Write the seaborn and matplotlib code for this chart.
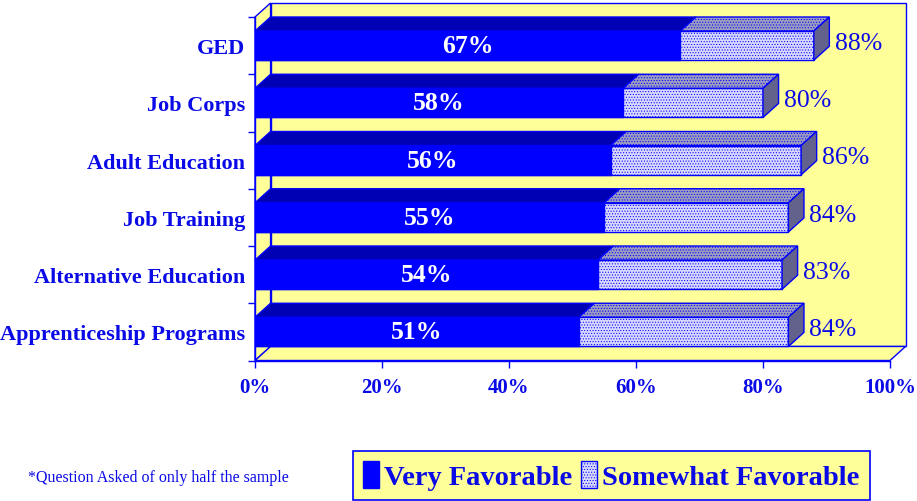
import numpy as np
import pandas as pd
import matplotlib
matplotlib.use("Agg")
import matplotlib.pyplot as plt
from matplotlib.patches import Polygon, Rectangle
import seaborn as sns

categories = ["GED", "Job Corps", "Adult Education", "Job Training",
              "Alternative Education", "Apprenticeship Programs"]
very_favorable = [67, 58, 56, 55, 54, 51]
total_favorable = [88, 80, 86, 84, 83, 84]
x_ticks = [0, 20, 40, 60, 80, 100]
x_tick_labels = ["0%", "20%", "40%", "60%", "80%", "100%"]
series_names = ["Very Favorable", "Somewhat Favorable"]
footnote = "*Question Asked of only half the sample"

sns.set_theme(style="white")
plt.rcParams["font.family"] = ["Liberation Serif", "DejaVu Serif"]
plt.rcParams["hatch.linewidth"] = 0.45

BLUE = "#0000FF"
TEXT_BLUE = "#0A0AE6"
WALL = "#FFFF99"
VF_TOP = "#0000B4"
SF_FACE = "#D8D8FF"
SF_TOP = "#9C9CC0"
SF_SIDE = "#62628C"

df = pd.DataFrame({"category": categories,
                   "very": very_favorable,
                   "total": total_favorable})

fig = plt.figure(figsize=(9.17, 5.02), dpi=100)
ax = fig.add_axes([255 / 917, (502 - 361.5) / 502, 635 / 917, 343.5 / 502])
ax.set_facecolor("none")

BAR_H = 0.51
DX, DY = 2.45, 0.245  # depth of the 3-D box in data units
n = len(categories)
y_lo, y_hi = -0.5, n - 0.5

# back wall, side wall and floor
wall_kw = dict(facecolor=WALL, edgecolor=BLUE, linewidth=1, clip_on=False, zorder=0.5)
ax.add_patch(Polygon([(DX, y_lo - DY), (100 + DX, y_lo - DY),
                      (100 + DX, y_hi - DY), (DX, y_hi - DY)], **wall_kw))
ax.add_patch(Polygon([(0, y_lo), (DX, y_lo - DY), (DX, y_hi - DY), (0, y_hi)], **wall_kw))
ax.add_patch(Polygon([(0, y_hi), (DX, y_hi - DY), (100 + DX, y_hi - DY), (100, y_hi)], **wall_kw))

# front faces of the stacked bars
sns.barplot(data=df, x="total", y="category", orient="h", color=SF_FACE,
            saturation=1, width=BAR_H, edgecolor=BLUE, linewidth=1,
            hatch="......", ax=ax, zorder=3)
sns.barplot(data=df, x="very", y="category", orient="h", color=BLUE,
            saturation=1, width=BAR_H, edgecolor=BLUE, linewidth=1,
            ax=ax, zorder=3)

ax.set_xlim(0, 100)
ax.set_ylim(y_hi, y_lo)

# top and end faces giving the bars depth
face_kw = dict(edgecolor=BLUE, linewidth=1, clip_on=False, zorder=3)
for i, (v, t) in enumerate(zip(very_favorable, total_favorable)):
    yt = i - BAR_H / 2
    ax.add_patch(Polygon([(0, yt), (DX, yt - DY), (v + DX, yt - DY), (v, yt)],
                         facecolor=VF_TOP, **face_kw))
    ax.add_patch(Polygon([(v, yt), (v + DX, yt - DY), (t + DX, yt - DY), (t, yt)],
                         facecolor=SF_TOP, hatch="......", **face_kw))
    ax.add_patch(Polygon([(t, yt), (t + DX, yt - DY), (t + DX, yt + BAR_H - DY),
                          (t, yt + BAR_H)], facecolor=SF_SIDE, **face_kw))
    ax.text(v / 2, i, f"{v}%", ha="center", va="center", color="white",
            fontsize=18.5, fontweight="bold", zorder=5)
    ax.text(t + 3.3, i - 0.05, f"{t}%", ha="left", va="center",
            color=TEXT_BLUE, fontsize=18.5, zorder=5)

# axes styling
for side in ("top", "right"):
    ax.spines[side].set_visible(False)
for side in ("left", "bottom"):
    ax.spines[side].set_color(BLUE)
    ax.spines[side].set_linewidth(1)

ax.set_xticks(x_ticks, x_tick_labels)
ax.tick_params(axis="x", which="major", bottom=True, direction="out", length=5,
               width=1, color=BLUE, labelcolor=TEXT_BLUE, labelsize=15, pad=7)
for lbl in ax.get_xticklabels():
    lbl.set_fontweight("bold")

ax.set_yticks(range(n), categories)
ax.set_yticks(np.arange(-0.5, n, 1), minor=True)
ax.tick_params(axis="y", which="major", left=False, length=0,
               labelcolor=TEXT_BLUE, labelsize=16, pad=7)
ax.tick_params(axis="y", which="minor", left=True, direction="out", length=5,
               width=1, color=BLUE)
for lbl in ax.get_yticklabels():
    lbl.set_fontweight("bold")
ax.set_xlabel("")
ax.set_ylabel("")

# legend
handles = [Rectangle((0, 0), 1, 1, facecolor=BLUE, edgecolor=BLUE, linewidth=1),
           Rectangle((0, 0), 1, 1, facecolor=SF_FACE, edgecolor=BLUE, linewidth=1,
                     hatch="......")]
leg = fig.legend(handles, series_names, loc="upper left",
                 bbox_to_anchor=(353 / 917, 1 - 452 / 502), borderaxespad=0,
                 ncol=2, frameon=True, fancybox=False, framealpha=1,
                 facecolor=WALL, edgecolor=BLUE, handlelength=0.55,
                 handleheight=1.1, handletextpad=0.2, columnspacing=0.3,
                 borderpad=0.35,
                 prop={"family": "Liberation Serif", "weight": "bold", "size": 20.5})
leg.get_frame().set_linewidth(1.2)
for txt in leg.get_texts():
    txt.set_color(TEXT_BLUE)

fig.text(28 / 917, 1 - 478 / 502, footnote, ha="left", va="center",
         color=TEXT_BLUE, fontsize=11.5)

fig.savefig("out.png", dpi=100)
